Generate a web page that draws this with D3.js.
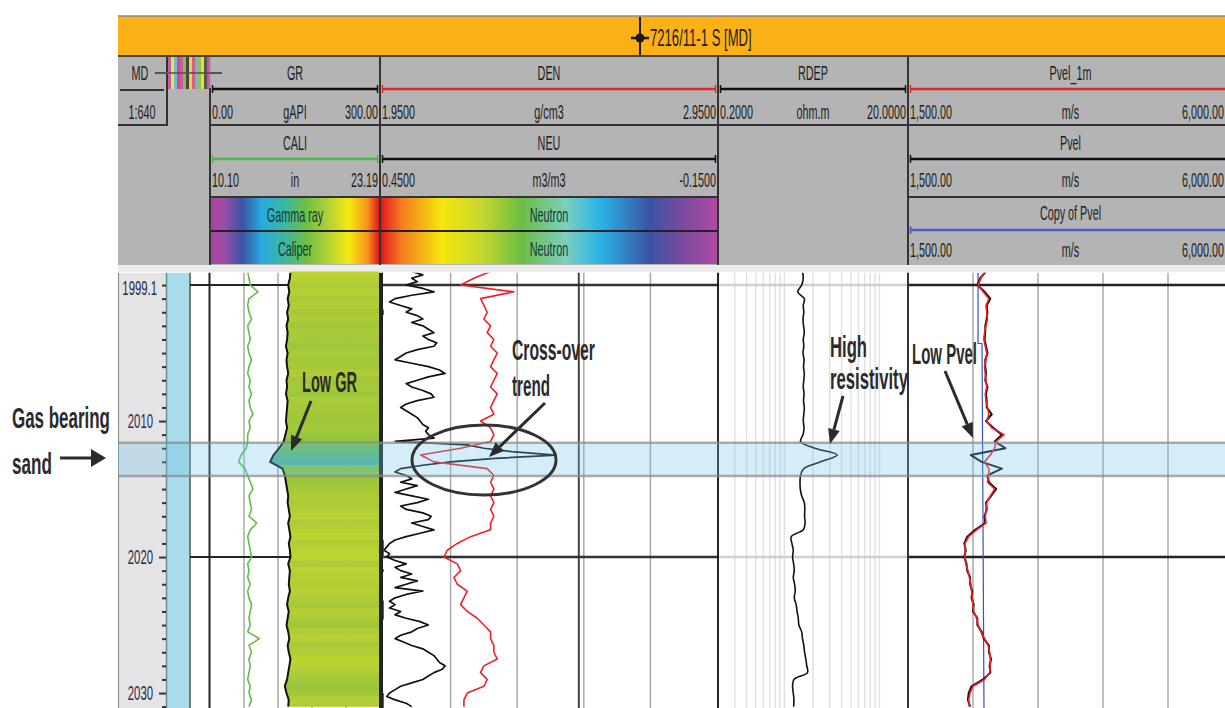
<!DOCTYPE html>
<html><head><meta charset="utf-8">
<script src="https://cdn.jsdelivr.net/npm/d3@7"></script>
<style>
body{margin:0;background:#fff;}
svg{display:block;}
</style></head><body>
<svg id="c" width="1225" height="708"></svg>
<script>
// ---------------- DATA ----------------
const depth = [1999,1999.5,2000,2000.5,2001,2001.5,2002,2002.5,2003,2003.5,
2004,2004.5,2005,2005.5,2006,2006.5,2007,2007.5,2008,2008.5,
2009,2009.5,2010,2010.5,2011,2011.5,2012,2012.5,2013,2013.5,
2014,2014.5,2015,2015.5,2016,2016.5,2017,2017.5,2018,2018.5,
2019,2019.5,2020,2020.5,2021,2021.5,2022,2022.5,2023,2023.5,
2024,2024.5,2025,2025.5,2026,2026.5,2027,2027.5,2028,2028.5,
2029,2029.5,2030,2030.5,2031];
const gr = [142,141,138,140,137,139,136,138,135,137,
136,134,137,135,136,138,135,136,134,137,
136,135,134,136,133,130,122,112,106,128,
132,134,136,138,137,139,141,138,140,142,
139,141,142,138,141,140,139,141,138,136,
139,137,135,138,140,137,139,142,140,138,
136,132,135,139,138];
const cali = [13.0,13.1,13.2,13.8,13.1,13.0,13.1,13.3,13.0,13.1,
13.2,13.0,13.1,13.3,13.1,13.0,13.2,13.1,13.3,13.1,
13.2,13.4,13.1,13.2,13.0,13.0,12.9,12.5,12.3,12.8,
13.0,13.2,13.4,13.1,13.2,13.3,13.1,13.7,13.2,13.0,
13.1,13.2,13.3,13.0,13.1,13.0,13.2,13.0,13.1,13.3,
13.2,13.1,13.2,13.0,13.9,13.1,13.3,13.1,13.2,13.1,
13.0,13.2,13.1,13.3,13.1];
const den = [2.27,2.22,2.18,2.34,2.24,2.25,2.26,2.25,2.27,2.26,
2.28,2.27,2.29,2.28,2.27,2.29,2.28,2.27,2.29,2.28,
2.27,2.28,2.24,2.27,2.28,2.27,2.18,2.06,2.10,2.26,
2.28,2.27,2.28,2.27,2.28,2.27,2.28,2.27,2.27,2.21,
2.17,2.14,2.13,2.17,2.18,2.16,2.17,2.20,2.19,2.18,
2.20,2.23,2.25,2.27,2.27,2.28,2.28,2.29,2.25,2.24,
2.26,2.25,2.20,2.19,2.19];
const rdep = [1.55,1.58,1.52,1.38,1.62,1.58,1.60,1.57,1.59,1.62,
1.58,1.60,1.57,1.61,1.59,1.62,1.60,1.58,1.61,1.59,
1.62,1.60,1.58,1.61,1.57,1.48,2.10,3.60,2.40,1.60,
1.48,1.46,1.47,1.52,1.62,1.64,1.63,1.65,1.58,1.18,
1.20,1.24,1.22,1.25,1.27,1.24,1.28,1.30,1.27,1.33,
1.36,1.40,1.42,1.52,1.55,1.60,1.63,1.68,1.72,1.75,
1.26,1.22,1.24,1.26,1.25];
const pvel1m = [2566,2510,2470,2540,2620,2580,2590,2600,2580,2560,
2550,2570,2590,2580,2560,2570,2580,2590,2570,2580,
2600,2620,2590,2660,2830,2720,2700,2640,2560,2620,
2620,2600,2700,2640,2590,2580,2570,2580,2450,2340,
2290,2290,2290,2300,2330,2350,2370,2380,2390,2400,
2410,2450,2470,2510,2560,2610,2630,2640,2640,2630,
2560,2400,2360,2340,2350];
const pvel = [2580,2500,2460,2560,2640,2590,2600,2590,2570,2570,
2560,2580,2600,2570,2570,2580,2570,2600,2580,2590,
2590,2660,2580,2680,2800,2700,2850,2370,2520,2800,
2600,2620,2720,2650,2580,2590,2560,2570,2430,2320,
2280,2300,2280,2310,2320,2360,2360,2390,2380,2410,
2400,2460,2460,2520,2550,2620,2620,2650,2630,2640,
2540,2380,2340,2330,2360];
const neuDepth = [1999,1999.25,1999.5,1999.75,2000,2000.25,2000.5,2000.75,2001,2001.25,2001.5,2001.75,
2002,2002.25,2002.5,2002.75,2003,2003.25,2003.5,2003.75,2004,2004.25,2004.5,2004.75,
2005,2005.25,2005.5,2005.75,2006,2006.25,2006.5,2006.75,2007,2007.25,2007.5,2007.75,
2008,2008.25,2008.5,2008.75,2009,2009.25,2009.5,2009.75,2010,2010.25,2010.5,2010.75,
2011,2011.25,2011.5,2011.75,2012,2012.25,2012.5,2012.75,2013,2013.25,2013.5,2013.75,
2014,2014.25,2014.5,2014.75,2015,2015.25,2015.5,2015.75,2016,2016.25,2016.5,2016.75,
2017,2017.25,2017.5,2017.75,2018,2018.25,2018.5,2018.75,2019,2019.25,2019.5,2019.75,
2020,2020.25,2020.5,2020.75,2021,2021.25,2021.5,2021.75,2022,2022.25,2022.5,2022.75,
2023,2023.25,2023.5,2023.75,2024,2024.25,2024.5,2024.75,2025,2025.25,2025.5,2025.75,
2026,2026.25,2026.5,2026.75,2027,2027.25,2027.5,2027.75,2028,2028.25,2028.5,2028.75,
2029,2029.25,2029.5,2029.75,2030,2030.25,2030.5,2030.75,2031];
const neu = [0.40,0.38,0.40,0.39,0.41,0.38,0.36,0.40,0.43,0.44,0.42,0.40,
0.41,0.39,0.38,0.40,0.38,0.37,0.36,0.38,0.37,0.355,0.36,0.39,
0.41,0.42,0.43,0.40,0.37,0.35,0.34,0.37,0.39,0.41,0.40,0.38,
0.365,0.36,0.39,0.41,0.42,0.41,0.40,0.39,0.385,0.38,0.37,0.375,
0.37,0.36,0.43,0.30,0.27,0.22,0.14,0.25,0.33,0.38,0.42,0.43,
0.41,0.40,0.42,0.39,0.41,0.43,0.40,0.37,0.39,0.42,0.41,0.38,
0.365,0.37,0.40,0.38,0.36,0.385,0.41,0.43,0.44,0.445,0.45,0.44,
0.445,0.43,0.41,0.43,0.42,0.40,0.42,0.39,0.41,0.43,0.38,0.41,
0.43,0.44,0.43,0.44,0.42,0.43,0.41,0.385,0.37,0.39,0.40,0.42,
0.43,0.415,0.40,0.38,0.37,0.36,0.355,0.35,0.34,0.345,0.36,0.37,
0.38,0.40,0.42,0.43,0.44,0.445,0.43,0.41,0.40];
const copyPvelDepth = [1999.1,2004.3,2004.3,2031.1];
const copyPvel = [2470,2470,2525,2552];
const depthTicks = [2000,2001,2002,2003,2004,2005,2006,2007,2008,2009,2010,2011,2012,2013,2014,2015,
2016,2017,2018,2019,2020,2021,2022,2023,2024,2025,2026,2027,2028,2029,2030,2031];
const depthLabels = [2010,2020,2030];
const topDepth = 1999.1, bottomDepth = 2031.1;
const majorGrid = [2000,2020];
const gasZone = [2011.6,2014.05];
const flagZones = [[2001.8,2002.2],[2018.75,2020.0],[2020.9,2021.1],[2023.2,2024.6],[2030.0,2031.1]];
const grGrid = [60,120,180,240];
const denGrid = [2.15,2.35,2.55,2.75];
const denDark = [2.535];
const rdepGrid = [0.3,0.4,0.5,0.6,0.7,0.8,0.9,1,2,3,4,5,6,7,8,9,10];
const pvGrid = [2400,3300,4200,5100];
const title = "7216/11-1 S [MD]";
const headerRows = [
  {x0:210,x1:380,row:0,name:"GR",color:"#111",lo:"0.00",unit:"gAPI",hi:"300.00"},
  {x0:210,x1:380,row:1,name:"CALI",color:"#4cb848",lo:"10.10",unit:"in",hi:"23.19"},
  {x0:380,x1:718,row:0,name:"DEN",color:"#e8252b",lo:"1.9500",unit:"g/cm3",hi:"2.9500"},
  {x0:380,x1:718,row:1,name:"NEU",color:"#111",lo:"0.4500",unit:"m3/m3",hi:"-0.1500"},
  {x0:718,x1:908,row:0,name:"RDEP",color:"#111",lo:"0.2000",unit:"ohm.m",hi:"20.0000"},
  {x0:908,x1:1233,row:0,name:"Pvel_1m",color:"#e8252b",lo:"1,500.00",unit:"m/s",hi:"6,000.00"},
  {x0:908,x1:1233,row:1,name:"Pvel",color:"#111",lo:"1,500.00",unit:"m/s",hi:"6,000.00"},
  {x0:908,x1:1233,row:2,name:"Copy of Pvel",color:"#4a5cc4",lo:"1,500.00",unit:"m/s",hi:"6,000.00"}
];
const colorBars = [
  {x0:210,x1:380,label:["Gamma ray","Caliper"],ramp:"gamma"},
  {x0:380,x1:718,label:["Neutron","Neutron"],ramp:"neutron"}
];
const gammaRamp = [[0,"#a4449c"],[0.06,"#a64ca6"],[0.19,"#3a55a5"],[0.3,"#27a9e1"],[0.45,"#3fb89a"],[0.56,"#6dbe45"],[0.7,"#b3d235"],[0.82,"#f5eb10"],[0.93,"#f7941d"],[1,"#e3171f"]];
const neutronRamp = [[0,"#e3171f"],[0.06,"#f47a20"],[0.18,"#f6e60c"],[0.3,"#c6d82f"],[0.42,"#6cbd45"],[0.55,"#7ccfc0"],[0.65,"#2bb5e8"],[0.8,"#3a53a4"],[0.9,"#7b4a9e"],[1,"#b04aa5"]];
const mdStripes = ["#c8509b","#f4e842","#5bc0de","#e8336d","#c94fa0","#7ac143","#333","#e8e23a","#e24a8a","#60c0d0","#8dc63f","#f0e030","#444","#c8509b"];

// ---------------- DRAW ----------------
const FONT = '"Liberation Sans",Arial,sans-serif';
const SX = 0.54;
const svg = d3.select("#c");
svg.append("rect").attr("width",1225).attr("height",708).attr("fill","#fff");

function label(g,x,y,s,o={}){
  return g.append("text")
    .attr("transform",`translate(${x},${y}) scale(${o.sx||SX},1)`)
    .attr("text-anchor",o.anchor||"middle")
    .attr("dominant-baseline","central")
    .attr("font-family",FONT)
    .attr("font-size",o.size||20)
    .attr("font-weight",o.weight||"normal")
    .attr("fill",o.fill||"#1e1e1e")
    .text(s);
}
function hline(g,x0,x1,yy,c,w){g.append("line").attr("x1",x0).attr("x2",x1).attr("y1",yy).attr("y2",yy).attr("stroke",c).attr("stroke-width",w);}
function vline(g,xx,y0,y1,c,w){g.append("line").attr("x1",xx).attr("x2",xx).attr("y1",y0).attr("y2",y1).attr("stroke",c).attr("stroke-width",w);}

const defs = svg.append("defs");
function ramp(id,stops){
  const lg = defs.append("linearGradient").attr("id",id).attr("x1","0%").attr("x2","100%");
  stops.forEach(s=>lg.append("stop").attr("offset",s[0]).attr("stop-color",s[1]));
}
ramp("gamma",gammaRamp); ramp("neutron",neutronRamp);

// Title bar
const H = svg.append("g");
H.append("rect").attr("x",118).attr("y",16).attr("width",1107).attr("height",40).attr("fill","#fbb116");
hline(H,118,1225,16,"#8a8a8a",1.5);
hline(H,118,1225,56,"#444",2);
vline(H,640,17,55,"#1a1a1a",2);
hline(H,631,649,38,"#1a1a1a",2.5);
H.append("circle").attr("cx",640).attr("cy",38).attr("r",4.5).attr("fill","#1a1a1a");
label(H,650,38,title,{anchor:"start",size:23,sx:0.57});

// header gray
H.append("rect").attr("x",118).attr("y",57).attr("width",1107).attr("height",208).attr("fill","#b4b4b4");
H.append("rect").attr("x",118).attr("y",265).attr("width",1107).attr("height",7).attr("fill","#ececec");

// MD box
label(H,140,73,"MD");
hline(H,120,164,90,"#333",2);
label(H,142,112,"1:640");
vline(H,167,57,125,"#333",2);
hline(H,118,168,125,"#333",2);
hline(H,155,222,73,"#555",2);
const sw = 42/mdStripes.length;
H.selectAll(".stripe").data(mdStripes).join("rect")
  .attr("x",(d,i)=>168+i*sw).attr("y",57).attr("width",sw+0.3).attr("height",32).attr("fill",d=>d).attr("opacity",0.85);
hline(H,168,222,73,"#555",1.5);

// header rows
const rowY = [{n:73,l:89,s:112},{n:143,l:159,s:180},{n:213,l:230,s:250}];
headerRows.forEach(r=>{
  const ry = rowY[r.row];
  const cx = (r.x0+Math.min(r.x1,1233))/2;
  label(H,cx,ry.n,r.name);
  hline(H,r.x0+2,r.x1-2,ry.l,r.color,2.5);
  vline(H,r.x0+2.5,ry.l-4,ry.l+4,r.color,1.5);
  vline(H,r.x1-2.5,ry.l-4,ry.l+4,r.color,1.5);
  label(H,r.x0+2,ry.s,r.lo,{anchor:"start"});
  label(H,cx,ry.s,r.unit);
  label(H,Math.min(r.x1-2,1224),ry.s,r.hi,{anchor:"end"});
});
// color bars
colorBars.forEach(b=>{
  [198,232].forEach((yy,i)=>{
    H.append("rect").attr("x",b.x0+1).attr("y",yy).attr("width",b.x1-b.x0-2).attr("height",32).attr("fill",`url(#${b.ramp})`);
    label(H,(b.x0+b.x1)/2,yy+17,b.label[i],{fill:"#0f3a3a"});
  });
  hline(H,b.x0,b.x1,231,"#222",2);
});
// header dividers
hline(H,210,1225,125,"#333",2);
hline(H,210,718,197,"#333",2);
hline(H,908,1225,197,"#333",2);
vline(H,210,88,265,"#333",2);
[380,718,908].forEach(xx=>vline(H,xx,57,265,"#333",2));

// ---------------- DATA AREA ----------------
const y = d3.scaleLinear().domain([topDepth,bottomDepth]).range([272.8,708]);
const xGR = d3.scaleLinear().domain([0,300]).range([210,380]);
const xCALI = d3.scaleLinear().domain([10.10,23.19]).range([210,380]);
const xDEN = d3.scaleLinear().domain([1.95,2.95]).range([384,717]);
const xNEU = d3.scaleLinear().domain([0.45,-0.15]).range([384,717]);
const xRD = d3.scaleLog().domain([0.2,20]).range([718,908]);
const xPV = d3.scaleLinear().domain([1500,6000]).range([908,1233]);
const yTop = y(topDepth), yBot = y(bottomDepth);

const D = svg.append("g");
D.append("rect").attr("x",118).attr("y",yTop).attr("width",48).attr("height",yBot-yTop).attr("fill","#e4e4e4");
D.append("rect").attr("x",166).attr("y",yTop).attr("width",24).attr("height",yBot-yTop).attr("fill","#a9dcea");
vline(D,166.5,yTop,yBot,"#6a8a94",1.5);
vline(D,190,yTop,yBot,"#555",1.5);
vline(D,118.5,yTop,yBot,"#888",1);

// clip paths
function clip(id,x0,x1){defs.append("clipPath").attr("id",id).append("rect").attr("x",x0).attr("y",yTop).attr("width",x1-x0).attr("height",yBot-yTop);}
clip("c1",211,379); clip("c2",382,717); clip("c3",719,907); clip("c4",909,1225);

// vertical grids
const G = D.append("g");
grGrid.forEach(v=>vline(G,xGR(v),yTop,yBot,"#a8a8a8",1.5));
denGrid.forEach(v=>vline(G,xDEN(v),yTop,yBot,"#a8a8a8",1.5));
denDark.forEach(v=>vline(G,xDEN(v),yTop,yBot,"#444",2));
rdepGrid.forEach(v=>vline(G,xRD(v),yTop,yBot,"#e2e2e2",1.5));
pvGrid.forEach(v=>vline(G,xPV(v),yTop,yBot,"#aaaaaa",1.5));
// horizontal major grid
majorGrid.forEach(d=>{
  hline(G,190,380,y(d),"#222",2);
  hline(G,380,718,y(d),"#333",2.5);
  hline(G,718,908,y(d),"#cfcfcf",2.5);
  hline(G,908,1225,y(d),"#222",2.5);
});

// GR fill (banded by GR value) clipped by area from curve to track edge
const grData = depth.map((d,i)=>({d,v:gr[i]}));
const fillColor = d3.scaleLinear().domain([105,120,130,136,142]).range(["#4fb394","#6cbd5a","#8cc43f","#a6c939","#bdd330"]).clamp(true);
defs.append("clipPath").attr("id","grclip").append("path")
  .attr("d",d3.area().y(p=>y(p.d)).x0(p=>xGR(p.v)).x1(379).curve(d3.curveLinear)(grData));
const fillG = D.append("g").attr("clip-path","url(#grclip)");
fillG.selectAll("rect").data(grData).join("rect")
  .attr("x",211).attr("width",168)
  .attr("y",p=>y(p.d-0.25)).attr("height",p=>y(p.d+0.25)-y(p.d-0.25)+0.5)
  .attr("fill",p=>fillColor(p.v));

function curve(g,ds,vs,xs,color,w,clipId,cv){
  const data = ds.map((d,i)=>({d,v:vs[i]}));
  g.append("path").attr("clip-path",`url(#${clipId})`)
    .attr("d",d3.line().y(p=>y(p.d)).x(p=>xs(p.v)).curve(cv||d3.curveLinear)(data))
    .attr("fill","none").attr("stroke",color).attr("stroke-width",w).attr("stroke-linejoin","round");
}
const C = D.append("g");
curve(C,depth,cali,xCALI,"#5cbf4a",1.6,"c1");
curve(C,depth,gr,xGR,"#111",2,"c1");
// flags
C.selectAll(".flag").data(flagZones).join("rect")
  .attr("x",381).attr("width",3).attr("y",f=>y(f[0])).attr("height",f=>y(f[1])-y(f[0])).attr("fill","#b0309a");
vline(C,382,yTop,yBot,"#222",2);
curve(C,neuDepth,neu,xNEU,"#111",1.7,"c2");
curve(C,depth,den,xDEN,"#ee2226",1.6,"c2");
curve(C,depth,rdep,xRD,"#111",1.6,"c3",d3.curveCatmullRom);
curve(C,copyPvelDepth,copyPvel,xPV,"#3a4fc0",1.2,"c4");
curve(C,depth,pvel,xPV,"#111",2,"c4");
curve(C,depth,pvel1m,xPV,"#ee2226",1.6,"c4");

// track borders in data area
vline(D,209.5,yTop,yBot,"#222",2);
vline(D,380,yTop,yBot,"#222",2);
vline(D,718,yTop,yBot,"#222",2);
vline(D,908,yTop,yBot,"#333",2);

// depth axis
const ax = D.append("g").attr("transform","translate(166,0)")
  .call(d3.axisLeft(y).tickValues(depthTicks).tickSize(4).tickPadding(9)
    .tickFormat(d=>depthLabels.includes(d)?String(d):""));
ax.select(".domain").remove();
ax.selectAll(".tick line").attr("stroke","#333").attr("stroke-width",2)
  .attr("x2",d=>depthLabels.includes(d)?-7:-4);
ax.selectAll(".tick text").attr("font-family",FONT).attr("font-size",21).attr("fill","#2a2a52")
  .attr("transform",`scale(${SX},1)`).attr("x",-13/SX);
label(D,157,288,String(topDepth),{anchor:"end",size:21,fill:"#2a2a52"});

// gas zone overlay
const gz = D.append("g");
gz.append("rect").attr("x",118).attr("y",y(gasZone[0])).attr("width",1107).attr("height",y(gasZone[1])-y(gasZone[0]))
  .attr("fill","rgb(110,195,235)").attr("opacity",0.3);
gasZone.forEach(d=>hline(gz,118,1225,y(d),"#8a8a8a",2.5));
gz.selectAll("line").attr("opacity",0.7);

// ---------------- ANNOTATIONS ----------------
const A = svg.append("g");
const INK = "#2b2b2b";
function note(x,yb,s,len){
  const t = A.append("text").attr("font-family",FONT).attr("font-weight","bold")
   .attr("font-size",30).attr("fill",INK).text(s);
  const w = t.node().getComputedTextLength() || len;
  t.attr("transform",`translate(${x},${yb}) scale(${len/w},1)`);
}
function arrow(x1,y1,x2,y2,head=15,hw=6){
  const a = Math.atan2(y2-y1,x2-x1);
  const bx = x2-head*Math.cos(a), by = y2-head*Math.sin(a);
  A.append("line").attr("x1",x1).attr("y1",y1).attr("x2",bx).attr("y2",by).attr("stroke",INK).attr("stroke-width",3);
  A.append("polygon").attr("points",[[x2,y2],[bx+hw*Math.sin(a),by-hw*Math.cos(a)],[bx-hw*Math.sin(a),by+hw*Math.cos(a)]].map(p=>p.join(",")).join(" "))
   .attr("fill",INK);
}
note(12,428,"Gas bearing",98);
note(12,474,"sand",40);
arrow(60,458,106,458,15,9);
note(302,392,"Low GR",55);
arrow(311,401,291,451);
note(512,360,"Cross-over",83);
note(512,396,"trend",38);
arrow(545,403,489,457);
A.append("ellipse").attr("cx",484).attr("cy",460).attr("rx",72).attr("ry",35)
  .attr("fill","none").attr("stroke","#333").attr("stroke-width",3);
note(830,357,"High",37);
note(830,389,"resistivity",78);
arrow(843,396,830,444);
note(912,364,"Low Pvel",65);
arrow(945,371,973,438);
</script>
</body></html>
